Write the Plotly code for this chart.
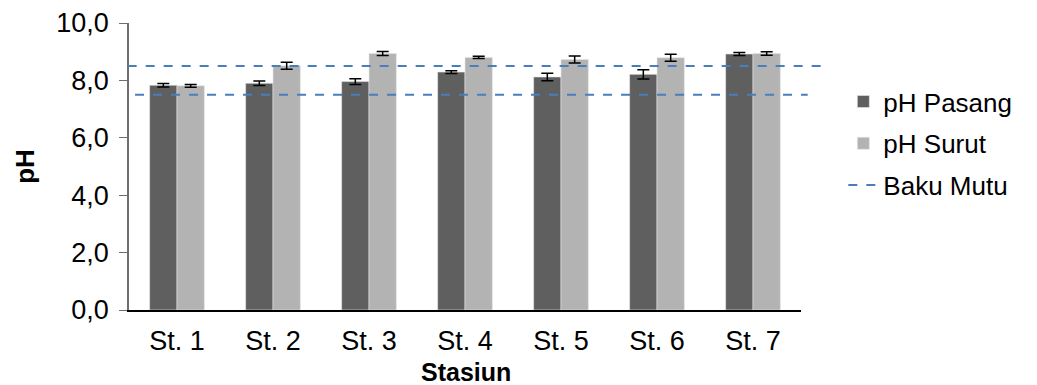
import plotly.graph_objects as go

stations = ["St. 1", "St. 2", "St. 3", "St. 4", "St. 5", "St. 6", "St. 7"]
ph_pasang = [7.83, 7.90, 7.96, 8.29, 8.12, 8.21, 8.92]
ph_pasang_err = [0.06, 0.08, 0.10, 0.05, 0.13, 0.16, 0.05]
ph_surut = [7.81, 8.51, 8.94, 8.80, 8.73, 8.79, 8.94]
ph_surut_err = [0.05, 0.12, 0.07, 0.04, 0.12, 0.12, 0.06]
baku_mutu = [8.5, 7.5]

FONT = "Liberation Sans, Arial, sans-serif"
DASH_COLOR = "#4a7ebb"

fig = go.Figure()
fig.add_trace(go.Bar(
    x=stations, y=ph_pasang, name="pH Pasang",
    marker=dict(color="#5f5f5f", line=dict(color="rgba(230,230,230,0.6)", width=1)),
    error_y=dict(type="data", array=ph_pasang_err, color="black", thickness=1.5, width=6),
    legendgroup="a",
))
fig.add_trace(go.Bar(
    x=stations, y=ph_surut, name="pH Surut",
    marker=dict(color="#b3b3b3", line=dict(color="rgba(230,230,230,0.6)", width=1)),
    error_y=dict(type="data", array=ph_surut_err, color="black", thickness=1.5, width=6),
    legendgroup="b",
))
# legend entry for the standard lines
fig.add_trace(go.Scatter(
    x=[None], y=[None], mode="lines", name="Baku Mutu",
    line=dict(color=DASH_COLOR, width=2, dash="dash"),
    legendgroup="c",
))

extents = [(-0.002, 1.033), (0.009, 1.010)]
for val, (x0, x1) in zip(baku_mutu, extents):
    fig.add_shape(type="line", xref="paper", yref="y", x0=x0, x1=x1, y0=val, y1=val,
                  line=dict(color=DASH_COLOR, width=2, dash="dash"), layer="above")

fig.add_annotation(text="<b>Stasiun</b>", xref="paper", yref="paper", x=0.5015, y=-0.215,
                   xanchor="center", yanchor="middle", showarrow=False,
                   font=dict(family=FONT, size=25, color="black"))
fig.add_annotation(text="<b>pH</b>", xref="paper", yref="paper", x=-0.155, y=0.502,
                   xanchor="center", yanchor="middle", showarrow=False, textangle=-90,
                   font=dict(family=FONT, size=26, color="black"))

# page body has an 8px margin, so the figure is sized/offset to compensate
fig.update_layout(
    width=1029, height=377,
    margin=dict(l=121, r=236, t=15, b=75),
    paper_bgcolor="white", plot_bgcolor="white",
    separators=",.",
    barmode="group", bargap=0.43, bargroupgap=0.0,
    font=dict(family=FONT, size=27, color="black"),
    showlegend=True,
    legend=dict(x=1.063, y=0.808, xanchor="left", yanchor="top",
                font=dict(size=26), traceorder="grouped", tracegroupgap=5,
                itemwidth=30, bgcolor="rgba(0,0,0,0)"),
    xaxis=dict(showline=True, linecolor="black", linewidth=1.5, ticks="", automargin=False,
               tickfont=dict(size=27), ticklabelstandoff=6),
    yaxis=dict(range=[0, 10], dtick=2, tickformat=".1f", showgrid=False, zeroline=False,
               automargin=False,
               showline=True, linecolor="#6e6e6e", linewidth=1.5, ticks="outside",
               ticklen=8, tickcolor="#6e6e6e", tickfont=dict(size=27), ticklabelstandoff=5),
)

fig.write_html("out.html")
